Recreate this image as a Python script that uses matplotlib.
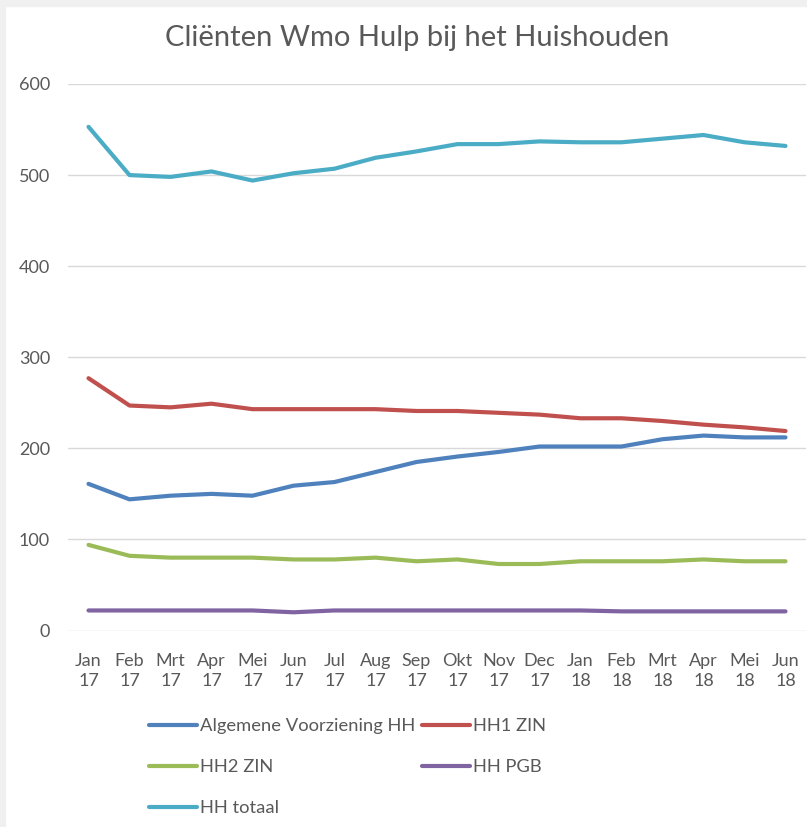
import matplotlib
matplotlib.use("Agg")
import matplotlib.pyplot as plt
from matplotlib.patches import Rectangle

months = ["Jan\n17", "Feb\n17", "Mrt\n17", "Apr\n17", "Mei\n17", "Jun\n17", "Jul\n17", "Aug\n17",
          "Sep\n17", "Okt\n17", "Nov\n17", "Dec\n17", "Jan\n18", "Feb\n18", "Mrt\n18", "Apr\n18",
          "Mei\n18", "Jun\n18"]

algemene = [161, 144, 148, 150, 148, 159, 163, 174, 185, 191, 196, 202, 202, 202, 210, 214, 212, 212]
hh1_zin = [277, 247, 245, 249, 243, 243, 243, 243, 241, 241, 239, 237, 233, 233, 230, 226, 223, 219]
hh2_zin = [94, 82, 80, 80, 80, 78, 78, 80, 76, 78, 73, 73, 76, 76, 76, 78, 76, 76]
hh_pgb = [22, 22, 22, 22, 22, 20, 22, 22, 22, 22, 22, 22, 22, 21, 21, 21, 21, 21]
hh_totaal = [553, 500, 498, 504, 494, 502, 507, 519, 526, 534, 534, 537, 536, 536, 540, 544, 536, 532]

series_names = ["Algemene Voorziening HH", "HH1 ZIN", "HH2 ZIN", "HH PGB", "HH totaal"]
series_values = [algemene, hh1_zin, hh2_zin, hh_pgb, hh_totaal]
colors = ["#4F81BD", "#C0504D", "#9BBB59", "#8064A2", "#4BACC6"]
yticks = [0, 100, 200, 300, 400, 500, 600]

plt.rcParams['font.family'] = ['Lato', 'DejaVu Sans']
text_color = "#595959"

fig = plt.figure(figsize=(8.07, 8.27), dpi=100)
W, H = 807, 827
ax = fig.add_axes([68 / W, 1 - 630.5 / H, (806 - 68) / W, (630.5 - 84) / H])

x = list(range(len(months)))
handles = []
for name, vals, c in zip(series_names, series_values, colors):
    h, = ax.plot(x, vals, color=c, lw=3.0, solid_capstyle='round', solid_joinstyle='round', label=name, zorder=3)
    handles.append(h)

ax.set_xlim(-0.5, len(months) - 0.5)
ax.set_ylim(0, 600)
ax.set_yticks(yticks)
ax.set_yticklabels([str(v) for v in yticks])
ax.set_xticks(x)
ax.set_xticklabels(months, linespacing=1.3)
ax.grid(axis='y', color='#D9D9D9', lw=1.0, zorder=0)
ax.set_axisbelow(True)
for s in ax.spines.values():
    s.set_visible(False)
ax.tick_params(axis='both', length=0, labelsize=13, colors=text_color)
ax.tick_params(axis='y', pad=13)
ax.tick_params(axis='x', pad=16)

fig.text(417 / W, 1 - 38 / H, "Cliënten Wmo Hulp bij het Huishouden", ha='center', va='center',
         fontsize=21, color=text_color)

order = [0, 2, 4, 1, 3]
leg = fig.legend([handles[i] for i in order], [series_names[i] for i in order], ncol=2,
                 loc='upper left', bbox_to_anchor=(142 / W, 1 - 711 / H), frameon=False,
                 fontsize=13.2, handlelength=2.6, handletextpad=0.15, columnspacing=0.4,
                 labelspacing=1.36, borderaxespad=0)
for t in leg.get_texts():
    t.set_color(text_color)

# light grey frame on top and left edges
fig.patches.append(Rectangle((0, 1 - 6 / H), 1, 6 / H, transform=fig.transFigure, color='#F0F0F0', zorder=-1))
fig.patches.append(Rectangle((0, 0), 5 / W, 1, transform=fig.transFigure, color='#F0F0F0', zorder=-1))

fig.savefig("out.png", dpi=100, facecolor='white')
